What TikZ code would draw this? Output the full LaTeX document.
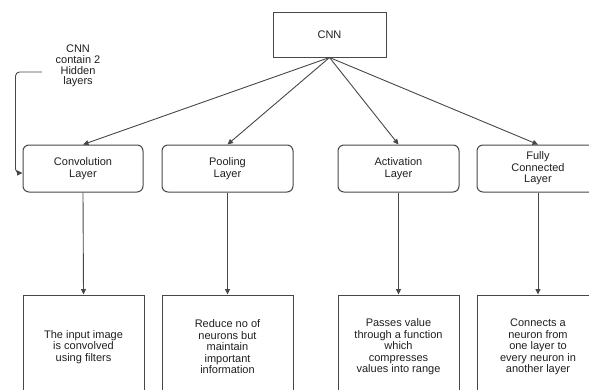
\documentclass[tikz,border=0pt]{standalone}
\usepackage{fontspec}
\setmainfont{Liberation Sans}
\usetikzlibrary{positioning, arrows.meta}
\definecolor{ink}{gray}{0.12}
\definecolor{rule}{gray}{0.28}
\tikzset{
  layerbox/.style={draw=rule, line width=1pt, rounded corners=6pt, align=center,
    minimum height=47pt, inner sep=0pt},
  infobox/.style={draw=rule, line width=1pt, align=center,
    minimum height=104pt, inner sep=0pt},
  link/.style={draw=rule, line width=.9pt, -{Triangle[length=5.5pt,width=5pt]}},
}

\begin{document}
\begin{tikzpicture}[x=1pt, y=-1pt, font=\fontsize{11}{11.5}\selectfont, text=ink]
\useasboundingbox (0,0) rectangle (589,389);
\clip (0,0) rectangle (589,389);
\def\ylay{168.5}\def\yinf{347}

\node[draw=rule, line width=1pt, minimum width=113pt, minimum height=45pt] (cnn) at (329.5,34.5) {CNN};
\node[align=center, font=\fontsize{11}{10.7}\selectfont] (note) at (78,66) {CNN\\contain 2\\Hidden\\layers};

\node[layerbox, minimum width=120pt] (conv) at (83,\ylay) {Convolution\\Layer};
\node[layerbox, minimum width=131pt] (pool) at (227.5,\ylay) {Pooling\\Layer};
\node[layerbox, minimum width=121pt] (act) at (398.5,\ylay) {Activation\\Layer};
\node[layerbox, minimum width=122pt] (full) at (538,\ylay) {Fully\\Connected\\Layer};

\node[infobox, minimum width=121pt] (convinfo) at (83.5,\yinf) {The input image\\is convolved\\using filters};
\node[infobox, minimum width=131pt] (poolinfo) at (227.5,\yinf) {Reduce no of\\neurons but\\maintain\\important\\information};
\node[infobox, minimum width=121pt] (actinfo) at (398.5,\yinf) {Passes value\\through a function\\which\\compresses\\values into range};
\node[infobox, minimum width=122pt] (fullinfo) at (538,\yinf) {Connects a\\neuron from\\one layer to\\every neuron in\\another layer};

\draw[link] (cnn.south) -- (conv.north);
\draw[link] (cnn.south) -- (pool.north);
\draw[link] (cnn.south) -- (act.north);
\draw[link] (cnn.south) -- (full.north);

\draw[link] (conv.south) -- (convinfo.north);
\draw[link] (pool.south) -- (poolinfo.north);
\draw[link] (act.south) -- (actinfo.north);
\draw[link] (full.south) -- (fullinfo.north);

% side note bends down into the first layer
\draw[link, rounded corners=4pt] ([shift={(-10pt,-6pt)}]note.west) -| ([shift={(-7pt,-4.5pt)}]conv.west) -- ([yshift=-4.5pt]conv.west);
\end{tikzpicture}
\end{document}
